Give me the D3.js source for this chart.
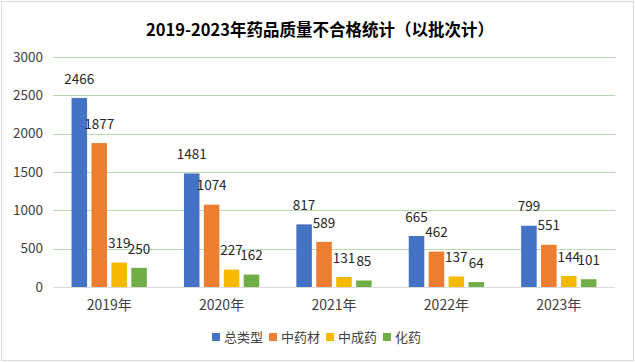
<!DOCTYPE html>
<html>
<head>
<meta charset="utf-8">
<script src="https://cdn.jsdelivr.net/npm/d3@7"></script>
<style>
  body { margin: 0; background: #fff; }
  text { font-family: "Noto Sans CJK SC", "Noto Sans", sans-serif; }
</style>
</head>
<body>
<script>
const years = ['2019年', '2020年', '2021年', '2022年', '2023年'];
const seriesNames = ['总类型', '中药材', '中成药', '化药'];
const colors = ['#4472C4', '#ED7D31', '#F5BA00', '#70AD47'];
const total = [2466, 1481, 817, 665, 799];
const herbs = [1877, 1074, 589, 462, 551];
const patent = [319, 227, 131, 137, 144];
const chemical = [250, 162, 85, 64, 101];
const yTicks = [0, 500, 1000, 1500, 2000, 2500, 3000];

const values = [total, herbs, patent, chemical];

const width = 635, height = 362;
const plot = {left: 53, right: 615, top: 57, bottom: 287};

const svg = d3.select('body').append('svg')
  .attr('width', width)
  .attr('height', height);

// outer frame
svg.append('rect')
  .attr('x', 1.5).attr('y', 1.5)
  .attr('width', width - 3).attr('height', height - 3)
  .attr('fill', '#fff')
  .attr('stroke', '#d9d9d9');

const x0 = d3.scaleBand()
  .domain(years)
  .range([plot.left, plot.right])
  .paddingInner(0.33)
  .paddingOuter(0.165);

const x1 = d3.scaleBand()
  .domain(seriesNames)
  .range([0, x0.bandwidth()])
  .paddingInner(0.22);

const y = d3.scaleLinear()
  .domain([0, 3000])
  .range([plot.bottom, plot.top]);

// gridlines
svg.append('g')
  .selectAll('line')
  .data(yTicks.filter(d => d > 0))
  .join('line')
  .attr('x1', plot.left).attr('x2', plot.right)
  .attr('y1', d => Math.round(y(d)) + 0.5)
  .attr('y2', d => Math.round(y(d)) + 0.5)
  .attr('stroke', '#b7dcab')
  .attr('stroke-width', 1);

// baseline
svg.append('line')
  .attr('x1', plot.left).attr('x2', plot.right)
  .attr('y1', Math.round(y(0)) + 0.5).attr('y2', Math.round(y(0)) + 0.5)
  .attr('stroke', '#d9d9d9');

// y labels
svg.append('g')
  .selectAll('text')
  .data(yTicks)
  .join('text')
  .attr('x', 43)
  .attr('y', d => y(d))
  .attr('dy', '0.35em')
  .attr('text-anchor', 'end')
  .attr('font-size', 13.5)
  .attr('fill', '#404040')
  .text(d => d);

// x labels
svg.append('g')
  .selectAll('text')
  .data(years)
  .join('text')
  .attr('x', d => x0(d) + x0.bandwidth() / 2)
  .attr('y', 305)
  .attr('dy', '0.35em')
  .attr('text-anchor', 'middle')
  .attr('font-size', 14)
  .attr('fill', '#404040')
  .text(d => d);

// bars + labels
const rows = [];
years.forEach((yr, i) => {
  seriesNames.forEach((s, j) => {
    rows.push({year: yr, series: s, idx: j, value: values[j][i]});
  });
});

svg.append('g')
  .selectAll('rect')
  .data(rows)
  .join('rect')
  .attr('x', d => x0(d.year) + x1(d.series))
  .attr('y', d => y(d.value))
  .attr('width', x1.bandwidth())
  .attr('height', d => y(0) - y(d.value))
  .attr('fill', d => colors[d.idx]);

svg.append('g')
  .selectAll('text')
  .data(rows)
  .join('text')
  .attr('x', d => x0(d.year) + x1(d.series) + x1.bandwidth() / 2)
  .attr('y', d => y(d.value) - 19)
  .attr('dy', '0.35em')
  .attr('text-anchor', 'middle')
  .attr('font-size', 13.5)
  .attr('fill', '#262626')
  .text(d => d.value);

// title
svg.append('text')
  .attr('x', 320)
  .attr('y', 30)
  .attr('dy', '0.35em')
  .attr('text-anchor', 'middle')
  .attr('font-size', 16.5)
  .attr('font-weight', 'bold')
  .attr('fill', '#000')
  .text('2019-2023年药品质量不合格统计（以批次计）');

// legend
const legend = svg.append('g')
  .selectAll('g')
  .data(seriesNames)
  .join('g')
  .attr('transform', (d, i) => `translate(${212 + i * 57},337)`);
legend.append('rect')
  .attr('x', 0).attr('y', -4)
  .attr('width', 8).attr('height', 8)
  .attr('fill', (d, i) => colors[i]);
legend.append('text')
  .attr('x', 12)
  .attr('dy', '0.35em')
  .attr('font-size', 13)
  .attr('fill', '#404040')
  .text(d => d);
</script>
</body>
</html>
